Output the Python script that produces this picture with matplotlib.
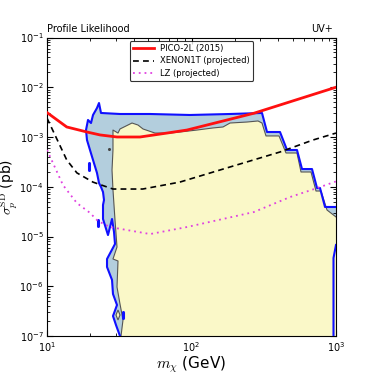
import matplotlib
matplotlib.use("Agg")
import matplotlib.pyplot as plt

# ---------------- data ----------------
pico_mass = [10, 13.7, 18.9, 23.3, 30.5, 44, 67.6, 93, 270, 1000]
pico_sigma = [3.1e-3, 1.59e-3, 1.26e-3, 1.1e-3, 1.0e-3, 1.0e-3, 1.2e-3, 1.38e-3, 3.0e-3, 1.0e-2]

xenon_mass = [10, 13.7, 16.1, 20.8, 28.6, 46, 83, 185, 410, 693, 1000]
xenon_sigma = [2.4e-3, 3.45e-4, 1.9e-4, 1.24e-4, 9.0e-5, 9.0e-5, 1.24e-4, 2.5e-4, 5.0e-4, 8.7e-4, 1.2e-3]

lz_mass = [10, 12.9, 16.1, 19.8, 22.5, 27.3, 35.7, 51.7, 93, 270, 480, 740, 1000]
lz_sigma = [5.5e-4, 1.08e-4, 4.7e-5, 3.0e-5, 2.05e-5, 1.55e-5, 1.35e-5, 1.12e-5, 1.55e-5, 3.1e-5, 6.2e-5, 9.4e-5, 1.28e-4]

# outer (2 sigma) credible region boundary
outer_mass = [32.0, 30.03, 28.62, 30.51, 28.62, 28.18, 26.02, 26.02, 29.55, 29.09, 28.18,
              26.43, 24.41, 24.41, 24.80, 24.41, 23.64, 22.90, 22.18, 20.82, 19.84, 18.91,
              18.62, 19.22, 20.16, 20.82, 22.18, 22.90, 23.64,
              32.0, 51.63, 97.6, 184.7, 307.5,
              333.1, 409.7, 458.1, 537.1, 581.8, 682.2, 738.9, 775.0, 839.3, 1000,
              1000, 961, 961]
outer_sigma = [1e-7, 1.66e-7, 2.52e-7, 4.20e-7, 6.98e-7, 1.34e-6, 2.44e-6, 3.53e-6, 7.07e-6, 1.23e-5, 2.25e-5,
               1.07e-5, 2.25e-5, 4.30e-5, 5.42e-5, 7.84e-5, 9.89e-5, 1.19e-4, 1.89e-4, 3.45e-4, 5.48e-4, 8.70e-4,
               1.38e-3, 2.20e-3, 1.91e-3, 2.77e-3, 3.83e-3, 4.82e-3, 3.04e-3,
               2.90e-3, 2.90e-3, 2.77e-3, 2.90e-3, 3.04e-3,
               1.26e-3, 1.26e-3, 5.48e-4, 5.48e-4, 2.27e-4, 2.27e-4, 9.44e-5, 9.44e-5, 3.92e-5, 3.92e-5,
               6.75e-6, 3.7e-6, 1e-7]

# inner (1 sigma) credible region boundary
inner_mass = [32.52, 33.57, 32.0, 30.51, 31.0, 28.62, 30.51, 29.55, 28.62, 28.18, 28.62, 28.62,
              31.0, 32.0, 38.75, 42.64, 46.17, 55.90, 71.0, 83.2, 109.2, 140.9, 165.2, 184.7,
              242.2, 288.6, 307.5,
              327.8, 403.3, 450.8, 537.1, 572.6, 671.4, 727.1, 787.5, 866.4, 1000, 1000]
inner_sigma = [1e-7, 2.10e-7, 4.40e-7, 9.66e-7, 3.22e-6, 3.53e-6, 6.15e-6, 2.15e-5, 8.61e-5, 2.17e-4, 5.48e-4, 1.38e-3,
               1.20e-3, 1.45e-3, 1.91e-3, 1.74e-3, 1.45e-3, 1.20e-3, 1.20e-3, 1.26e-3, 1.38e-3, 1.52e-3, 1.59e-3, 1.91e-3,
               2.00e-3, 2.10e-3, 1.91e-3,
               1.05e-3, 1.05e-3, 4.77e-4, 4.77e-4, 1.98e-4, 1.98e-4, 8.21e-5, 8.21e-5, 3.41e-5, 2.47e-5, 1e-7]

# small isolated islands
island_mass = [30.03, 31.0, 32.0, 31.0]
island_sigma = [2.64e-7, 3.33e-7, 2.64e-7, 2.10e-7]
blob1_mass = [19.5, 19.5]
blob1_sigma = [3.0e-4, 2.17e-4]
blob2_mass = [22.54, 22.54]
blob2_sigma = [2.15e-5, 1.63e-5]
blob3_mass = [33.57, 33.57]
blob3_sigma = [3.03e-7, 2.30e-7]

labels = ["PICO-2L (2015)", "XENON1T (projected)", "LZ (projected)"]

# ---------------- plot ----------------
plt.rcParams["mathtext.fontset"] = "cm"
plt.rcParams["font.family"] = "DejaVu Sans"

fig = plt.figure(figsize=(3.74, 3.74), dpi=100)
ax = fig.add_axes([47 / 374, 1 - 336 / 374, 289 / 374, 298.5 / 374])

blue_fill = "#b3cedd"
yellow_fill = "#faf8c8"
blue_line = "#1010ff"
grey_line = "#555555"

ax.fill(outer_mass, outer_sigma, facecolor=blue_fill, edgecolor="none", zorder=1)
ax.fill(inner_mass, inner_sigma, facecolor=yellow_fill, edgecolor="none", zorder=2)
ax.plot(inner_mass[:-1], inner_sigma[:-1], color=grey_line, lw=0.8, zorder=2.5)
ax.fill(island_mass, island_sigma, facecolor=yellow_fill, edgecolor=grey_line, lw=0.8, zorder=2.5)
ax.plot(outer_mass[:-3], outer_sigma[:-3], color=blue_line, lw=1.5, zorder=3)
ax.plot(outer_mass[-3:], outer_sigma[-3:], color=blue_line, lw=1.5, zorder=3)
for bm, bs in [(blob1_mass, blob1_sigma), (blob2_mass, blob2_sigma), (blob3_mass, blob3_sigma)]:
    ax.plot(bm, bs, color=blue_line, lw=2.2, solid_capstyle="round", zorder=3)
ax.plot([27.0], [5.74e-4], marker="o", ms=1.2, color="#444444", zorder=3)

ax.plot(pico_mass, pico_sigma, color="#ff1010", lw=2.0, label=labels[0], zorder=5)
ax.plot(xenon_mass, xenon_sigma, color="black", lw=1.2, ls=(0, (3.5, 2.5)), label=labels[1], zorder=5)
ax.plot(lz_mass, lz_sigma, color="#e040e0", lw=1.3, ls=(0, (1, 2.2)), label=labels[2], zorder=5)

ax.set_xscale("log")
ax.set_yscale("log")
ax.set_xlim(10, 1000)
ax.set_ylim(1e-7, 1e-1)

ax.tick_params(which="both", direction="in", top=True, right=True, labelsize=7)
ax.tick_params(which="major", length=4, width=0.8)
ax.tick_params(which="minor", length=2, width=0.6)
ax.tick_params(axis="x", pad=3)
ax.tick_params(axis="y", pad=2.5)

ax.set_xlabel(r"$m_\chi$ (GeV)", fontsize=11)
ax.set_ylabel(r"$\sigma_p^{\rm SD}$ (pb)", fontsize=10)
ax.xaxis.set_label_coords(0.5, -0.062)
ax.yaxis.set_label_coords(-0.094, 0.5)

ax.text(0.0, 1.012, "Profile Likelihood", transform=ax.transAxes, fontsize=7, ha="left", va="bottom")
ax.text(0.99, 1.012, "UV+", transform=ax.transAxes, fontsize=7, ha="right", va="bottom")

leg = ax.legend(loc="upper center", fontsize=6, frameon=True, fancybox=True,
                edgecolor="black", handlelength=2.5, borderaxespad=0.4,
                labelspacing=0.4, handletextpad=0.8)
leg.get_frame().set_linewidth(0.8)

fig.savefig("out.png", dpi=100)
